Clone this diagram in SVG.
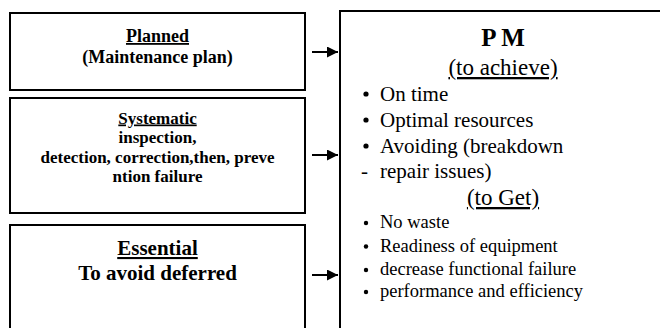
<svg xmlns="http://www.w3.org/2000/svg" width="660" height="328" viewBox="0 0 660 328">
<defs>
<style>
.box{fill:#fff;stroke:#000;stroke-width:2}
.b{font-family:"Liberation Serif","Times New Roman",serif;font-weight:bold;fill:#000;text-anchor:middle}
.r{font-family:"Liberation Serif","Times New Roman",serif;fill:#000}
.u{text-decoration:underline}
.conn{stroke:#000;stroke-width:2;fill:none}
</style>
<marker id="ah" viewBox="0 0 10 10" refX="10" refY="5" markerWidth="5.5" markerHeight="5.5" orient="auto" markerUnits="strokeWidth">
<path d="M0,0 L10,5 L0,10 Z" fill="#000"/>
</marker>
</defs>
<rect width="660" height="328" fill="#fff"/>
<g id="planned">
<rect class="box" x="10" y="13" width="295" height="77"/>
<text class="b u" x="157.5" y="42" font-size="18">Planned</text>
<text class="b" x="157.5" y="63" font-size="18">(Maintenance plan)</text>
</g>
<g id="systematic">
<rect class="box" x="10" y="98" width="295" height="115"/>
<text class="b" x="157.5" y="123.5" font-size="17"><tspan class="u">Systematic </tspan></text>
<text class="b" x="157.5" y="143" font-size="17"> inspection,</text>
<text class="b" x="157.5" y="162.5" font-size="17">detection, correction,then, preve</text>
<text class="b" x="157.5" y="181.5" font-size="17">ntion failure</text>
</g>
<g id="essential">
<rect class="box" x="10" y="225" width="295" height="120"/>
<text class="b u" x="157.5" y="255" font-size="21">Essential</text>
<text class="b" x="157.5" y="280" font-size="21">To avoid deferred</text>
</g>
<g id="pm">
<rect class="box" x="340" y="11" width="330" height="330"/>
<text class="b" x="503" y="46" font-size="25">P M</text>
<text class="r u" x="503" y="75" font-size="23" text-anchor="middle">(to achieve)</text>
<circle cx="366" cy="94" r="2.6"/>
<text class="r" x="380" y="101" font-size="21">On time</text>
<circle cx="366" cy="120" r="2.6"/>
<text class="r" x="380" y="127" font-size="21">Optimal resources</text>
<circle cx="366" cy="146" r="2.6"/>
<text class="r" x="380" y="153" font-size="21">Avoiding (breakdown</text>
<text class="r" x="361" y="178" font-size="21">-</text>
<text class="r" x="380" y="178" font-size="21">repair issues)</text>
<text class="r u" x="503" y="205" font-size="23" text-anchor="middle">(to Get)</text>
<circle cx="366" cy="223" r="2.2"/>
<text class="r" x="380" y="228" font-size="18.5">No waste</text>
<circle cx="366" cy="246.5" r="2.2"/>
<text class="r" x="380" y="251.5" font-size="18.5">Readiness of equipment</text>
<circle cx="366" cy="270" r="2.2"/>
<text class="r" x="380" y="275" font-size="18.5">decrease functional failure</text>
<circle cx="366" cy="292" r="2.2"/>
<text class="r" x="380" y="297" font-size="18.5">performance and efficiency</text>
</g>
<g id="connectors">
<line class="conn" x1="312" y1="52" x2="338" y2="52" marker-end="url(#ah)"/>
<line class="conn" x1="312" y1="155" x2="338" y2="155" marker-end="url(#ah)"/>
<line class="conn" x1="312" y1="275" x2="338" y2="275" marker-end="url(#ah)"/>
</g>
</svg>
